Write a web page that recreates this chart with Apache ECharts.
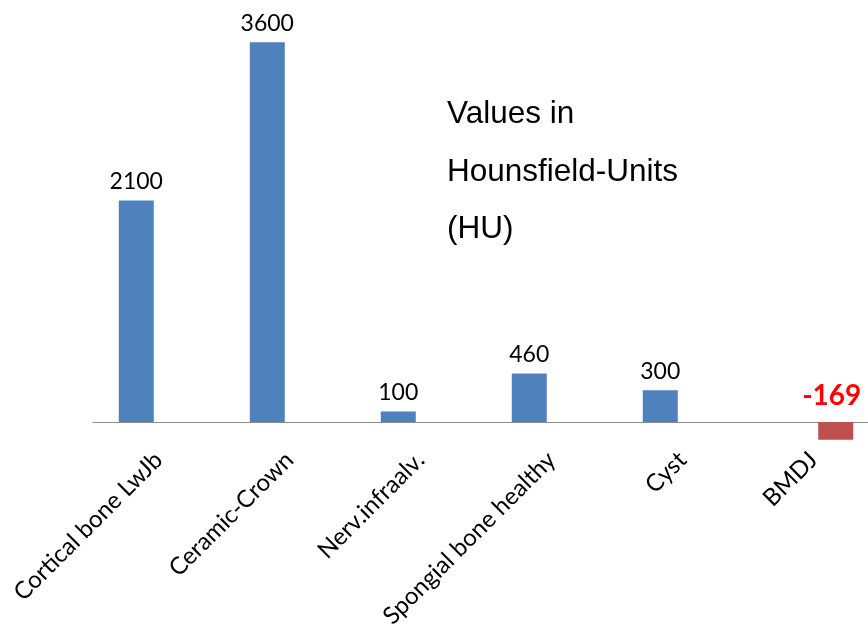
<!DOCTYPE html>
<html>
<head>
<meta charset="utf-8">
<script src="https://cdn.jsdelivr.net/npm/echarts@6/dist/echarts.min.js"></script>
<style>
  html, body { margin: 0; padding: 0; background: #fff; }
  #chart { width: 868px; height: 624px; }
</style>
</head>
<body>
<div id="chart"></div>
<script>
// Tissue / material categories
const categories = ['Cortical bone LwJb', 'Ceramic-Crown', 'Nerv.infraalv.', 'Spongial bone healthy', 'Cyst', 'BMDJ'];
// Positive densities (blue series)
const densityValues = [2100, 3600, 100, 460, 300, null];
// Negative density (red series)
const negativeValues = [null, null, null, null, null, -169];
const noteLines = ['Values in', 'Hounsfield-Units', '(HU)'];

const labelFont = 'Lato, "Open Sans", sans-serif';

const chart = echarts.init(document.getElementById('chart'), null, { renderer: 'canvas' });

chart.setOption({
  animation: false,
  backgroundColor: '#ffffff',
  // the grid bottom sits on the zero line; the negative bar hangs below it
  grid: { left: 93, top: 0, width: 786, height: 422, containLabel: false, outerBoundsMode: 'none' },
  xAxis: {
    type: 'category',
    data: categories,
    axisLine: { lineStyle: { color: '#8c8c8c', width: 1 } },
    axisTick: { show: false },
    axisLabel: {
      rotate: 45,
      interval: 0,
      margin: 34,
      color: '#000',
      fontSize: 24,
      fontFamily: labelFont
    },
    splitLine: { show: false }
  },
  yAxis: {
    type: 'value',
    min: 0,
    max: 4000,
    show: false,
    splitLine: { show: false }
  },
  series: [
    {
      type: 'bar',
      data: densityValues,
      barWidth: 35,
      barGap: '27%',
      clip: false,
      itemStyle: { color: '#4f81bd' },
      label: {
        show: true,
        position: 'top',
        distance: 7,
        color: '#000',
        fontSize: 23,
        fontFamily: labelFont
      }
    },
    {
      type: 'bar',
      data: negativeValues,
      barWidth: 35,
      clip: false,
      itemStyle: { color: '#c0504d' },
      label: {
        show: true,
        position: 'top',
        distance: 12,
        offset: [-4, 0],
        color: '#ff0000',
        fontWeight: 'bold',
        fontSize: 28,
        fontFamily: labelFont
      }
    }
  ],
  graphic: [
    {
      type: 'text',
      left: 447,
      top: 86,
      style: {
        text: noteLines.join('\n'),
        font: '31.5px "Liberation Sans", Arial, sans-serif',
        lineHeight: 57.5,
        fill: '#000'
      }
    }
  ]
});
</script>
</body>
</html>
